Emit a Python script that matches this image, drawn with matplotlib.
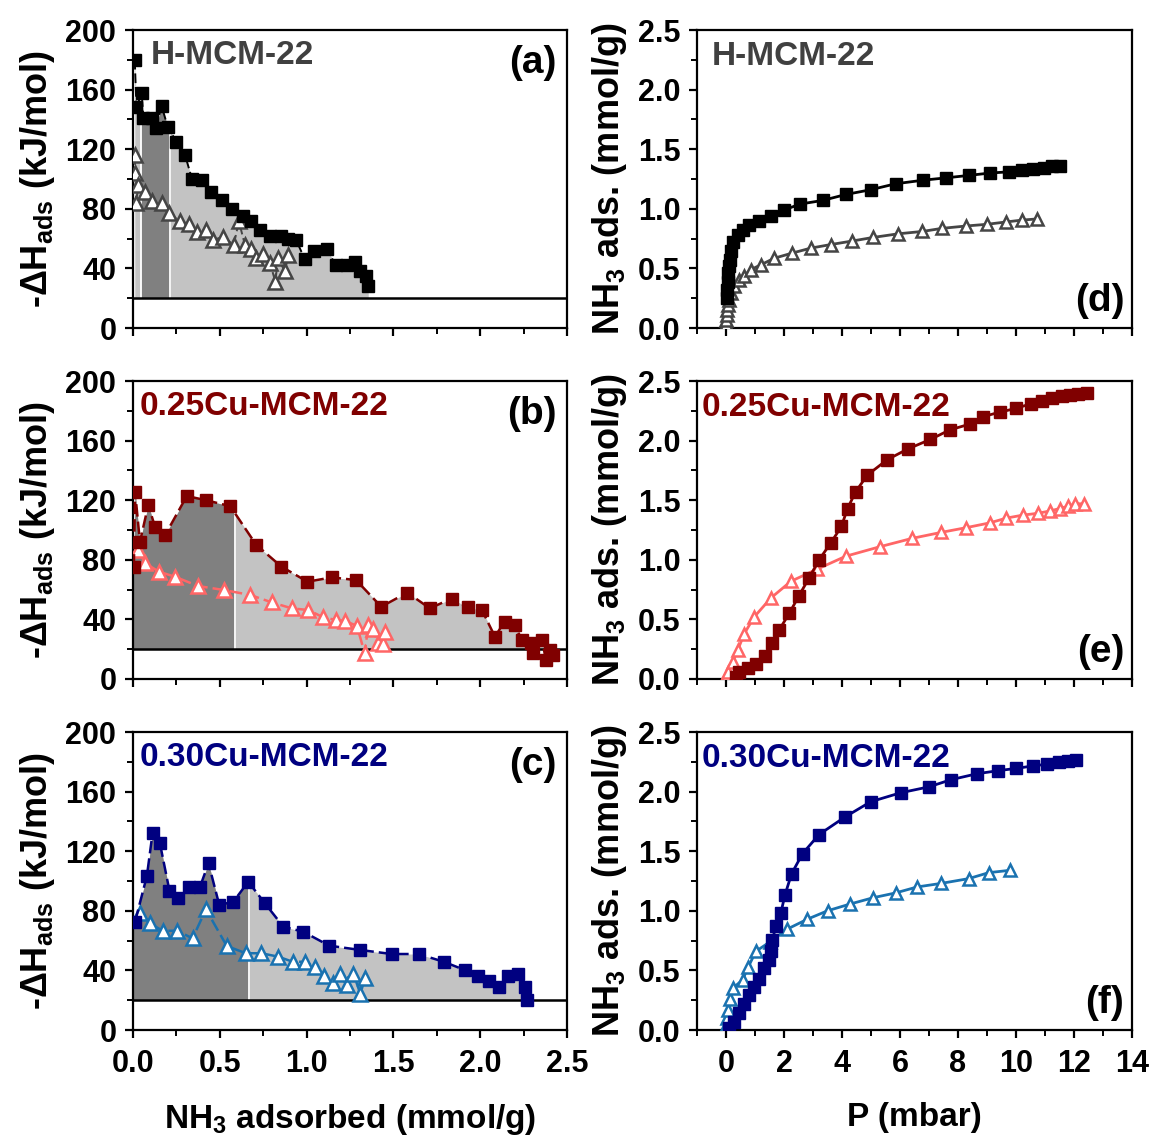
import numpy as np
import matplotlib
matplotlib.use("Agg")
import matplotlib.pyplot as plt
from matplotlib.ticker import MultipleLocator

plt.rcParams.update({
    "font.family": ["Liberation Sans", "DejaVu Sans"],
    "font.weight": "bold",
    "mathtext.fontset": "custom",
    "mathtext.rm": "Liberation Sans:bold",
    "mathtext.it": "Liberation Sans:bold",
    "mathtext.bf": "Liberation Sans:bold",
    "axes.linewidth": 1.6,
    "xtick.direction": "out",
    "ytick.direction": "out",
    "xtick.major.width": 1.6,
    "ytick.major.width": 1.6,
    "xtick.minor.width": 1.4,
    "ytick.minor.width": 1.4,
    "xtick.major.size": 6,
    "ytick.major.size": 6,
    "xtick.minor.size": 4,
    "ytick.minor.size": 4,
    "xtick.major.pad": 8,
    "ytick.major.pad": 6,
})

# ---- heat of adsorption vs NH3 adsorbed (left column) ----
a_sq_x = [0.01, 0.02, 0.05, 0.06, 0.11, 0.13, 0.165, 0.20, 0.25, 0.30, 0.34, 0.40, 0.45, 0.51, 0.57,
          0.635, 0.68, 0.73, 0.79, 0.85, 0.895, 0.94, 0.99, 1.04, 1.115, 1.17, 1.23, 1.28, 1.31, 1.345, 1.355]
a_sq_y = [180, 148, 158, 141, 141, 134, 149, 135, 125, 116, 100, 99, 91, 86, 80,
          75, 72, 66, 62, 62, 60, 59, 46, 52, 53, 42, 42, 44, 38, 35, 28]
a_tr_x = [0.012, 0.012, 0.02, 0.03, 0.07, 0.108, 0.165, 0.21, 0.27, 0.325, 0.37, 0.42, 0.46, 0.52, 0.58,
          0.61, 0.645, 0.68, 0.71, 0.75, 0.79, 0.82, 0.835, 0.875, 0.895]
a_tr_y = [116, 104, 84, 96, 91, 85, 84, 77, 71.5, 70, 64.6, 66, 59, 61.3, 55.7,
          71.5, 55.7, 52.8, 46.8, 50, 43.4, 31, 46.8, 38, 49]

b_sq_x = [0.005, 0.012, 0.04, 0.088, 0.127, 0.185, 0.31, 0.42, 0.56, 0.71, 0.855, 1.005, 1.145, 1.285, 1.43,
          1.58, 1.71, 1.835, 1.93, 2.01, 2.085, 2.14, 2.2, 2.24, 2.29, 2.305, 2.355, 2.38, 2.4, 2.42]
b_sq_y = [75.4, 125.7, 92, 116.8, 102, 96.6, 122.8, 120, 116, 90, 75.4, 65.3, 68.2, 66.4, 48.5,
          58, 47.4, 54, 48, 46.3, 28.4, 38.5, 36.2, 26, 24, 17.2, 26, 12.8, 19.5, 16]
b_tr_x = [0.03, 0.07, 0.15, 0.24, 0.375, 0.525, 0.675, 0.8, 0.915, 1.01, 1.095, 1.17, 1.22, 1.29, 1.335,
          1.355, 1.385, 1.41, 1.44, 1.45]
b_tr_y = [86.6, 77.7, 72, 68.7, 62.4, 59.7, 56.4, 51.4, 47.4, 46.3, 41.4, 39.6, 39.1, 35.6, 17.2,
          36.2, 33.4, 24, 23.5, 31.7]

c_sq_x = [0.012, 0.08, 0.113, 0.155, 0.21, 0.26, 0.32, 0.385, 0.435, 0.497, 0.578, 0.664, 0.76, 0.866,
          0.98, 1.13, 1.31, 1.49, 1.645, 1.79, 1.91, 1.99, 2.05, 2.11, 2.16, 2.22, 2.26, 2.27]
c_sq_y = [72.7, 103.4, 132.4, 125.3, 93.5, 88.4, 95.8, 95.8, 111.9, 83.9, 86.1, 99.5, 85, 69.3,
          66, 56.6, 53.7, 51, 51, 45.8, 40.3, 36.2, 33.1, 29.1, 36.2, 37.6, 29.1, 20.1]
c_tr_x = [0.04, 0.098, 0.17, 0.255, 0.343, 0.42, 0.54, 0.65, 0.74, 0.837, 0.92, 0.99, 1.05, 1.1,
          1.15, 1.19, 1.23, 1.27, 1.31, 1.335]
c_tr_y = [78.7, 71.6, 66.6, 66.6, 61.5, 81, 56.4, 51.5, 51.5, 49.2, 45.8, 45.8, 42, 36.2,
          31.3, 37.6, 30.2, 37.6, 24.2, 34.7]

# ---- isotherms (right column) ----
d_sq_p = [0.02, 0.04, 0.06, 0.08, 0.1, 0.13, 0.17, 0.23, 0.4, 0.57, 0.8, 1.15, 1.55, 2.0, 2.56, 3.33, 4.13,
          4.99, 5.85, 6.8, 7.6, 8.37, 9.1, 9.75, 10.2, 10.6, 10.95, 11.24, 11.5]
d_sq_q = [0.25, 0.32, 0.39, 0.46, 0.52, 0.57, 0.65, 0.72, 0.78, 0.82, 0.86, 0.9, 0.94, 0.99, 1.04, 1.07, 1.12,
          1.16, 1.21, 1.24, 1.26, 1.28, 1.3, 1.31, 1.325, 1.33, 1.345, 1.355, 1.36]
d_tr_p = [0.0, 0.01, 0.02, 0.04, 0.07, 0.1, 0.17, 0.29, 0.46, 0.63, 0.86, 1.2, 1.66, 2.26, 2.92, 3.61, 4.36,
          5.08, 5.93, 6.77, 7.45, 8.29, 9.0, 9.67, 10.2, 10.72]
d_tr_q = [0.03, 0.07, 0.11, 0.15, 0.19, 0.235, 0.29, 0.35, 0.4, 0.44, 0.49, 0.53, 0.585, 0.627, 0.67, 0.7, 0.73,
          0.76, 0.79, 0.81, 0.836, 0.856, 0.87, 0.89, 0.905, 0.915]

e_sq_p = [0.35, 0.46, 0.75, 1.03, 1.34, 1.6, 1.83, 2.18, 2.52, 2.87, 3.21, 3.61, 3.98, 4.19, 4.47, 4.87,
          5.56, 6.27, 7.05, 7.72, 8.43, 8.85, 9.46, 10.0, 10.52, 10.9, 11.24, 11.58, 11.87, 12.15, 12.44]
e_sq_q = [0.02, 0.06, 0.09, 0.13, 0.19, 0.3, 0.41, 0.55, 0.7, 0.85, 1.0, 1.14, 1.28, 1.43, 1.57, 1.71,
          1.84, 1.93, 2.01, 2.09, 2.14, 2.2, 2.24, 2.27, 2.31, 2.335, 2.355, 2.37, 2.38, 2.395, 2.4]
e_tr_p = [0.0, 0.06, 0.23, 0.4, 0.63, 0.97, 1.55, 2.24, 3.13, 4.13, 5.31, 6.42, 7.42, 8.29, 9.1, 9.67,
          10.24, 10.75, 11.18, 11.5, 11.81, 12.04, 12.33]
e_tr_q = [0.02, 0.06, 0.145, 0.24, 0.38, 0.52, 0.68, 0.82, 0.92, 1.03, 1.11, 1.18, 1.23, 1.27, 1.31, 1.35,
          1.375, 1.39, 1.41, 1.43, 1.45, 1.47, 1.47]

f_sq_p = [0.1, 0.29, 0.46, 0.63, 0.8, 0.97, 1.15, 1.32, 1.49, 1.55, 1.6, 1.72, 1.89, 2.03, 2.26, 2.64, 3.21,
          4.09, 4.99, 6.02, 7.0, 7.76, 8.66, 9.37, 10.01, 10.58, 11.06, 11.47, 11.81, 12.07]
f_sq_q = [0.02, 0.07, 0.14, 0.22, 0.29, 0.36, 0.43, 0.52, 0.59, 0.66, 0.755, 0.87, 0.98, 1.13, 1.31, 1.48, 1.64,
          1.785, 1.915, 1.99, 2.04, 2.1, 2.15, 2.175, 2.195, 2.215, 2.23, 2.25, 2.26, 2.265]
f_tr_p = [0.0, 0.03, 0.08, 0.15, 0.23, 0.57, 0.77, 1.03, 1.52, 2.1, 2.81, 3.5, 4.28, 5.08, 5.85, 6.59,
          7.42, 8.37, 9.06, 9.8]
f_tr_q = [0.03, 0.1, 0.17, 0.26, 0.35, 0.42, 0.53, 0.66, 0.74, 0.845, 0.93, 1.0, 1.057, 1.11, 1.15, 1.2,
          1.23, 1.27, 1.32, 1.34]

samples = ["H-MCM-22", "0.25Cu-MCM-22", "0.30Cu-MCM-22"]
name_colors = ["#404040", "#800000", "#000080"]
sq_colors = ["#000000", "#800000", "#000080"]
tr_colors = ["#454545", "#ff6666", "#1a72b0"]
dark_spans = [(0.045, 0.215), (0.0, 0.59), (0.0, 0.67)]
baseline = 20

left_data = [(a_sq_x, a_sq_y, a_tr_x, a_tr_y),
             (b_sq_x, b_sq_y, b_tr_x, b_tr_y),
             (c_sq_x, c_sq_y, c_tr_x, c_tr_y)]
right_data = [(d_sq_p, d_sq_q, d_tr_p, d_tr_q),
              (e_sq_p, e_sq_q, e_tr_p, e_tr_q),
              (f_sq_p, f_sq_q, f_tr_p, f_tr_q)]

W, H = 1151, 1138
fig = plt.figure(figsize=(W / 100, H / 100), dpi=100)

rows_top = [30, 381, 732]
ax_h = 298
left_x0, left_w = 133, 434
right_x0, right_w = 697, 435

TICK_FS = 22
YLABEL_FS = 26
XLABEL_FS = 24
NAME_FS = 24
LETTER_FS = 28

for i in range(3):
    bot = (H - rows_top[i] - ax_h) / H
    axl = fig.add_axes([left_x0 / W, bot, left_w / W, ax_h / H])
    axr = fig.add_axes([right_x0 / W, bot, right_w / W, ax_h / H])

    sx, sy, tx, ty = left_data[i]
    sx, sy = np.array(sx), np.array(sy)
    curve = np.maximum(sy, baseline)
    axl.fill_between(sx, baseline, curve, color="#c3c3c3", lw=0, zorder=1)
    lo, hi = dark_spans[i]
    xs = np.linspace(lo, hi, 300)
    ys = np.interp(xs, sx, curve)
    axl.fill_between(xs, baseline, ys, color="#808080", lw=0, zorder=1.2)
    for xb in (lo, hi):
        if xb > 0:
            axl.plot([xb, xb], [baseline, np.interp(xb, sx, curve)], color="white", lw=1.3, zorder=1.3)
    axl.axhline(baseline, color="black", lw=1.8, zorder=2)

    lw_l = 1.4 if i == 0 else 1.8
    axl.plot(tx, ty, color=tr_colors[i], lw=lw_l, ls=(0, (5, 2)), marker="^", ms=10,
             mfc="white", mec=tr_colors[i], mew=1.8, zorder=3)
    axl.plot(sx, sy, color=sq_colors[i], lw=lw_l, ls=(0, (5, 2)), marker="s", ms=9,
             mfc=sq_colors[i], mec=sq_colors[i], zorder=4)

    axl.set_xlim(0, 2.5)
    axl.set_ylim(0, 200)
    axl.xaxis.set_major_locator(MultipleLocator(0.5))
    axl.xaxis.set_minor_locator(MultipleLocator(0.25))
    axl.yaxis.set_major_locator(MultipleLocator(40))
    axl.yaxis.set_minor_locator(MultipleLocator(20))
    axl.set_ylabel("-ΔH$_{ads}$ (kJ/mol)", fontsize=YLABEL_FS, fontweight="bold", labelpad=6)

    px, pq, qx, qq = right_data[i]
    axr.plot(qx, qq, color=tr_colors[i], lw=2, marker="^", ms=9, mfc="white",
             mec=tr_colors[i], mew=1.8, zorder=3)
    axr.plot(px, pq, color=sq_colors[i], lw=2, marker="s", ms=8,
             mfc=sq_colors[i], mec=sq_colors[i], zorder=4)
    axr.set_xlim(-1, 14)
    axr.set_ylim(0, 2.5)
    axr.xaxis.set_major_locator(MultipleLocator(2))
    axr.xaxis.set_minor_locator(MultipleLocator(1))
    axr.yaxis.set_major_locator(MultipleLocator(0.5))
    axr.yaxis.set_minor_locator(MultipleLocator(0.25))
    axr.yaxis.set_major_formatter(plt.FormatStrFormatter("%.1f"))
    axr.set_ylabel("NH$_3$ ads. (mmol/g)", fontsize=YLABEL_FS, fontweight="bold", labelpad=6)

    for ax in (axl, axr):
        ax.tick_params(which="both", top=False, right=False, labelsize=TICK_FS)
        for lab in ax.get_xticklabels() + ax.get_yticklabels():
            lab.set_fontweight("bold")
        if i < 2:
            ax.tick_params(axis="x", labelbottom=False)

    axl.text(0.04 if i == 0 else 0.016, 0.915, samples[i], transform=axl.transAxes,
             fontsize=NAME_FS, fontweight="bold", color=name_colors[i], ha="left", va="center")
    axl.text(0.975, 0.89, "(" + "abc"[i] + ")", transform=axl.transAxes,
             fontsize=LETTER_FS, fontweight="bold", ha="right", va="center")
    axr.text(0.034 if i == 0 else 0.011, 0.91, samples[i], transform=axr.transAxes,
             fontsize=NAME_FS, fontweight="bold", color=name_colors[i], ha="left", va="center")
    axr.text(0.982, 0.092, "(" + "def"[i] + ")", transform=axr.transAxes,
             fontsize=LETTER_FS, fontweight="bold", ha="right", va="center")

    if i == 2:
        axl.set_xlabel("NH$_3$ adsorbed (mmol/g)", fontsize=XLABEL_FS, fontweight="bold", labelpad=16)
        axr.set_xlabel("P (mbar)", fontsize=XLABEL_FS, fontweight="bold", labelpad=16)

fig.savefig("out.png", dpi=100, facecolor="white")
